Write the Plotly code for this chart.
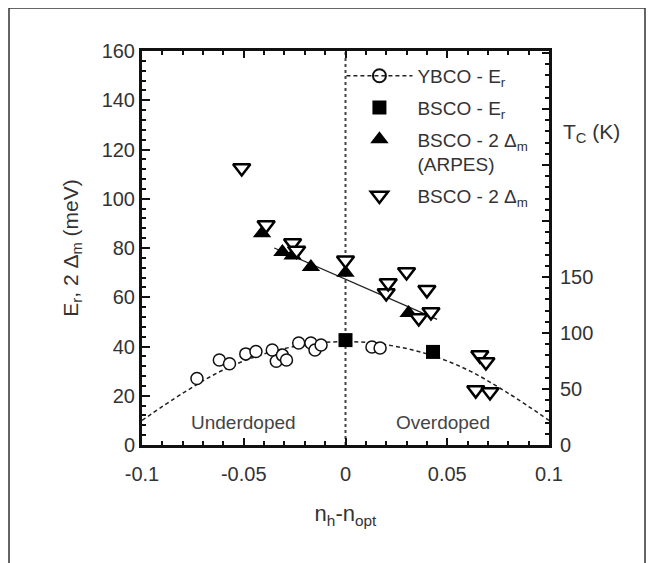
import plotly.graph_objects as go

# ---- data ----
ybco_x = [-0.073, -0.062, -0.057, -0.049, -0.044, -0.036, -0.034, -0.031, -0.029,
          -0.023, -0.017, -0.015, -0.012, 0.013, 0.017]
ybco_y = [27.0, 34.5, 33.0, 37.0, 38.0, 38.6, 34.0, 36.5, 34.5,
          41.4, 41.4, 38.6, 40.6, 39.8, 39.4]

bsco_er_x = [0.0, 0.043]
bsco_er_y = [42.6, 37.8]

arpes_x = [-0.041, -0.031, -0.026, -0.017, 0.0, 0.031]
arpes_y = [86.0, 78.4, 77.0, 72.3, 70.0, 53.6]

tun_x = [-0.051, -0.039, -0.026, -0.024, 0.0, 0.020, 0.021, 0.030, 0.036, 0.040, 0.042,
         0.066, 0.069, 0.064, 0.071]
tun_y = [112.5, 89.3, 82.0, 79.0, 75.0, 61.7, 65.8, 70.3, 51.6, 63.0, 54.0,
         36.5, 33.7, 22.3, 21.5]

# dashed YBCO curve
curve_x = [-0.1, -0.08, -0.06, -0.04, -0.02, 0.0, 0.02, 0.04, 0.06, 0.08, 0.1]
curve_y = [10.0, 21.0, 30.5, 37.0, 40.7, 42.0, 40.7, 37.0, 30.5, 21.0, 10.0]

# straight fit through the gap data
gapfit_x = [-0.035, 0.045]
gapfit_y = [80.0, 51.0]

x_ticks = [-0.1, -0.05, 0, 0.05, 0.1]
x_ticktext = ["-0.1", "-0.05", "0", "0.05", "0.1"]
y_ticks = [0, 20, 40, 60, 80, 100, 120, 140, 160]
tc_ticks = [0, 50, 100, 150, 200, 250, 300, 350]
tc_ticktext = ["0", "50", "100", "150", "", "", "", ""]

FONT = "Liberation Sans, Arial, sans-serif"
TXT = "#333333"

fig = go.Figure()

fig.add_trace(go.Scatter(x=curve_x, y=curve_y, mode="lines", line_shape="spline",
                         line=dict(color="#222", width=1.5, dash="4px,3px"),
                         showlegend=False, hoverinfo="skip"))
fig.add_trace(go.Scatter(x=gapfit_x, y=gapfit_y, mode="lines",
                         line=dict(color="#222", width=1.2),
                         showlegend=False, hoverinfo="skip"))
fig.add_trace(go.Scatter(x=[0, 0], y=[0, 160], mode="lines",
                         line=dict(color="#444", width=2, dash="dot"),
                         showlegend=False, hoverinfo="skip"))

# legend-only entry for YBCO (dashed line + circle)
fig.add_trace(go.Scatter(x=[None], y=[None], mode="lines+markers",
                         name="YBCO - E<sub>r</sub>", legendgroup="a",
                         line=dict(color="#222", width=1.5, dash="4px,3px"),
                         marker=dict(symbol="circle-open", size=13, color="#111",
                                     line=dict(width=2))))
fig.add_trace(go.Scatter(x=ybco_x, y=ybco_y, mode="markers", showlegend=False,
                         marker=dict(symbol="circle", size=12, color="white",
                                     line=dict(color="#111", width=1.5))))
fig.add_trace(go.Scatter(x=bsco_er_x, y=bsco_er_y, mode="markers",
                         name="BSCO - E<sub>r</sub>", legendgroup="b",
                         marker=dict(symbol="square", size=14, color="#000")))
fig.add_trace(go.Scatter(x=arpes_x, y=arpes_y, mode="markers",
                         name="BSCO - 2 Δ<sub>m</sub><br>(ARPES)", legendgroup="c",
                         marker=dict(symbol="triangle-up", size=16, color="#000")))
fig.add_trace(go.Scatter(x=tun_x, y=tun_y, mode="markers",
                         name="BSCO - 2 Δ<sub>m</sub>", legendgroup="d",
                         marker=dict(symbol="triangle-down", size=15, color="white",
                                     line=dict(color="#000", width=2.5))))

# right axis carrier (invisible)
fig.add_trace(go.Scatter(x=[None], y=[None], yaxis="y2", showlegend=False))

fig.update_layout(
    width=655, height=563,
    margin=dict(l=134, r=114, t=43, b=126),
    paper_bgcolor="white", plot_bgcolor="white",
    font=dict(family=FONT, color=TXT, size=20),
    xaxis=dict(range=[-0.1, 0.1], tickvals=x_ticks, ticktext=x_ticktext,
               ticks="inside", ticklen=7, tickwidth=2, tickcolor="#111",
               minor=dict(dtick=0.01, ticks="inside", ticklen=4, tickwidth=1.5,
                          tickcolor="#111"),
               showline=True, linewidth=3, linecolor="#111", mirror="ticks",
               showgrid=False, zeroline=False, ticklabelstandoff=9,
               title=dict(text="n<sub>h</sub>-n<sub>opt</sub>", standoff=22,
                          font=dict(size=22)),
               tickfont=dict(size=20)),
    yaxis=dict(range=[0, 160], tickvals=y_ticks, ticks="inside", ticklen=8,
               tickwidth=2, tickcolor="#111",
               minor=dict(dtick=4, ticks="inside", ticklen=4, tickwidth=1.5,
                          tickcolor="#111"),
               showline=True, linewidth=3, linecolor="#111", mirror=True,
               showgrid=False, zeroline=False,
               title=dict(text="E<sub>r</sub>, 2 Δ<sub>m</sub> (meV)", standoff=18,
                          font=dict(size=21)),
               tickfont=dict(size=20)),
    yaxis2=dict(overlaying="y", side="right", range=[0, 160 * 2.4625 / 1.12],
                tickvals=tc_ticks, ticktext=tc_ticktext, ticks="inside",
                ticklen=7, tickwidth=2, tickcolor="#111",
                minor=dict(dtick=10, ticks="inside", ticklen=4, tickwidth=1.5,
                           tickcolor="#111"),
                showline=False, showgrid=False, zeroline=False,
                ticklabelstandoff=10, tickfont=dict(size=20)),
    legend=dict(x=0.49, y=0.985, xanchor="left", yanchor="top",
                bgcolor="rgba(0,0,0,0)", borderwidth=0, itemwidth=66,
                valign="top", font=dict(size=19, color=TXT),
                tracegroupgap=4),
    showlegend=True,
)

fig.add_annotation(text="Underdoped", x=-0.05, y=9, xref="x", yref="y",
                   showarrow=False, font=dict(size=19, color="#444"))
fig.add_annotation(text="Overdoped", x=0.048, y=9, xref="x", yref="y",
                   showarrow=False, font=dict(size=19, color="#444"))
fig.add_annotation(text="T<sub>C</sub> (K)", x=1.105, y=0.83, xref="paper",
                   yref="paper", showarrow=False, xanchor="center",
                   font=dict(size=21, color=TXT))

# outer frame
fig.add_shape(type="rect", xref="paper", yref="paper",
              x0=(9 - 142) / 407, x1=(645 - 142) / 407,
              y0=(445 - 567) / 394, y1=(445 - 8) / 394,
              line=dict(color="#333", width=1.5))

fig.write_html("out.html")
